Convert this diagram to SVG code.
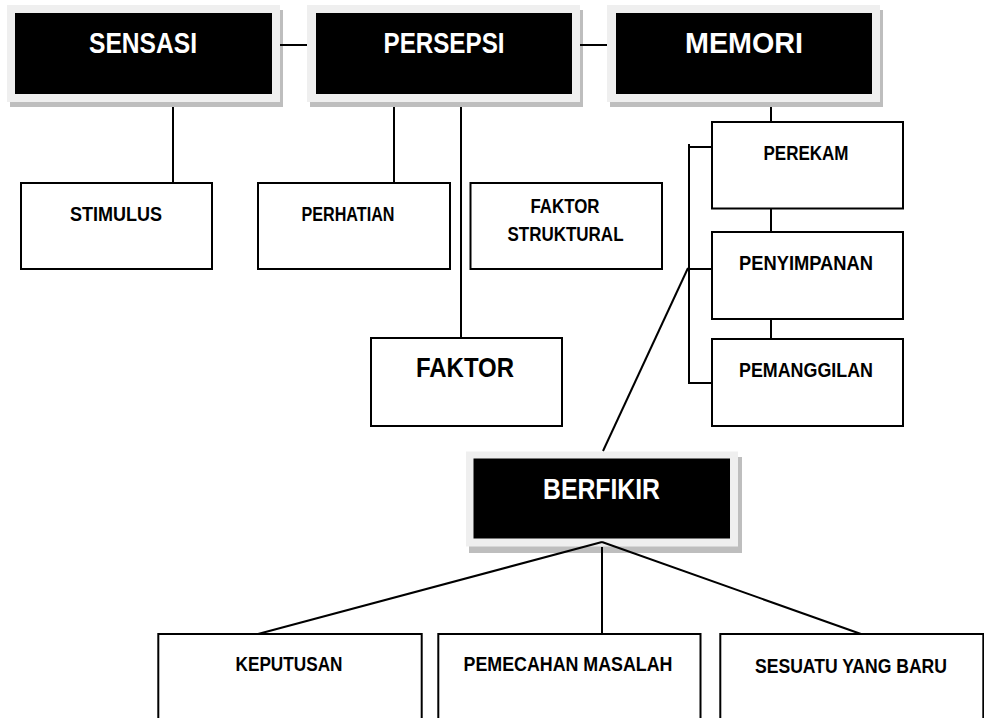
<svg xmlns="http://www.w3.org/2000/svg" width="984" height="718" viewBox="0 0 984 718">
<style>
.shadow{fill:#bebebe}
.frame{fill:#efefef}
.blk{fill:#000}
.box{fill:#fff;stroke:#000;stroke-width:2}
.big{font-family:"Liberation Sans",Arial,sans-serif;font-weight:bold;font-size:29px;fill:#fff;text-anchor:middle}
.sm{font-family:"Liberation Sans",Arial,sans-serif;font-weight:bold;font-size:21px;fill:#000;text-anchor:middle}
.conn line{stroke:#000;stroke-width:2;fill:none}
</style>
<rect width="984" height="718" fill="#fff"/>
<g id="sensasi">
<rect class="shadow" x="10" y="10" width="273" height="97"/>
<rect class="frame" x="7" y="5" width="273" height="97"/>
<rect class="blk" x="15" y="13" width="257" height="81"/>
<text class="big" x="143" y="53" textLength="108" lengthAdjust="spacingAndGlyphs">SENSASI</text>
</g>
<g id="persepsi">
<rect class="shadow" x="310" y="10" width="273" height="97"/>
<rect class="frame" x="307" y="5" width="273" height="97"/>
<rect class="blk" x="316" y="13" width="256" height="81"/>
<text class="big" x="444" y="53" textLength="121" lengthAdjust="spacingAndGlyphs">PERSEPSI</text>
</g>
<g id="memori">
<rect class="shadow" x="610" y="10" width="273" height="97"/>
<rect class="frame" x="607" y="5" width="273" height="97"/>
<rect class="blk" x="616" y="13" width="256" height="81"/>
<text class="big" x="744" y="53" textLength="118" lengthAdjust="spacingAndGlyphs">MEMORI</text>
</g>
<g id="stimulus">
<rect class="box" x="21" y="183" width="191" height="86"/>
<text class="sm" x="116" y="221" textLength="92" lengthAdjust="spacingAndGlyphs">STIMULUS</text>
</g>
<g id="perhatian">
<rect class="box" x="258" y="183" width="192" height="86"/>
<text class="sm" x="348" y="221" textLength="93" lengthAdjust="spacingAndGlyphs">PERHATIAN</text>
</g>
<g id="faktor-struktural">
<rect class="box" x="470.5" y="183" width="191.5" height="86"/>
<text class="sm" x="565" y="213" textLength="69" lengthAdjust="spacingAndGlyphs">FAKTOR</text>
<text class="sm" x="565.5" y="241" textLength="116" lengthAdjust="spacingAndGlyphs">STRUKTURAL</text>
</g>
<g id="faktor">
<rect class="box" x="371" y="338" width="191" height="88"/>
<text class="sm" x="465" y="377" style="font-size:28px" textLength="98" lengthAdjust="spacingAndGlyphs">FAKTOR</text>
</g>
<g id="perekam">
<rect class="box" x="712" y="122" width="191" height="86.5"/>
<text class="sm" x="806" y="160" textLength="85" lengthAdjust="spacingAndGlyphs">PEREKAM</text>
</g>
<g id="penyimpanan">
<rect class="box" x="712" y="232" width="191" height="87"/>
<text class="sm" x="806" y="270" textLength="134" lengthAdjust="spacingAndGlyphs">PENYIMPANAN</text>
</g>
<g id="pemanggilan">
<rect class="box" x="712" y="339" width="191" height="87"/>
<text class="sm" x="806" y="377" textLength="134" lengthAdjust="spacingAndGlyphs">PEMANGGILAN</text>
</g>
<g id="berfikir">
<rect class="shadow" x="469" y="457" width="273" height="96"/>
<rect class="frame" x="466" y="451.5" width="272" height="95"/>
<rect class="blk" x="473.5" y="458.5" width="256.5" height="80"/>
<text class="big" x="601.5" y="499" style="font-size:30px" textLength="117" lengthAdjust="spacingAndGlyphs">BERFIKIR</text>
</g>
<g id="keputusan">
<rect class="box" x="158.3" y="634" width="263.4" height="87"/>
<text class="sm" x="289" y="671" textLength="107" lengthAdjust="spacingAndGlyphs">KEPUTUSAN</text>
</g>
<g id="pemecahan-masalah">
<rect class="box" x="438.3" y="634" width="262.2" height="87"/>
<text class="sm" x="568" y="671" textLength="209" lengthAdjust="spacingAndGlyphs">PEMECAHAN MASALAH</text>
</g>
<g id="sesuatu-yang-baru">
<rect class="box" x="720.3" y="634" width="263" height="87"/>
<text class="sm" x="851" y="673" textLength="192" lengthAdjust="spacingAndGlyphs">SESUATU YANG BARU</text>
</g>
<g id="connectors" class="conn">
<line x1="280" y1="45" x2="307" y2="45"/>
<line x1="580" y1="45" x2="607" y2="45"/>
<line x1="173" y1="107" x2="173" y2="183"/>
<line x1="394" y1="107" x2="394" y2="183"/>
<line x1="461" y1="107" x2="461" y2="338"/>
<line x1="771" y1="107" x2="771" y2="122"/>
<line x1="771" y1="208.5" x2="771" y2="232"/>
<line x1="771" y1="319" x2="771" y2="339"/>
<line x1="689" y1="144" x2="689" y2="384"/>
<line x1="689" y1="147" x2="712" y2="147"/>
<line x1="689" y1="269" x2="712" y2="269"/>
<line x1="689" y1="383" x2="712" y2="383"/>
<line x1="688" y1="268" x2="603" y2="451"/>
<line x1="602" y1="542" x2="258" y2="634"/>
<line x1="602" y1="542" x2="861" y2="634"/>
<line x1="602" y1="547" x2="602" y2="634"/>
</g>
</svg>
